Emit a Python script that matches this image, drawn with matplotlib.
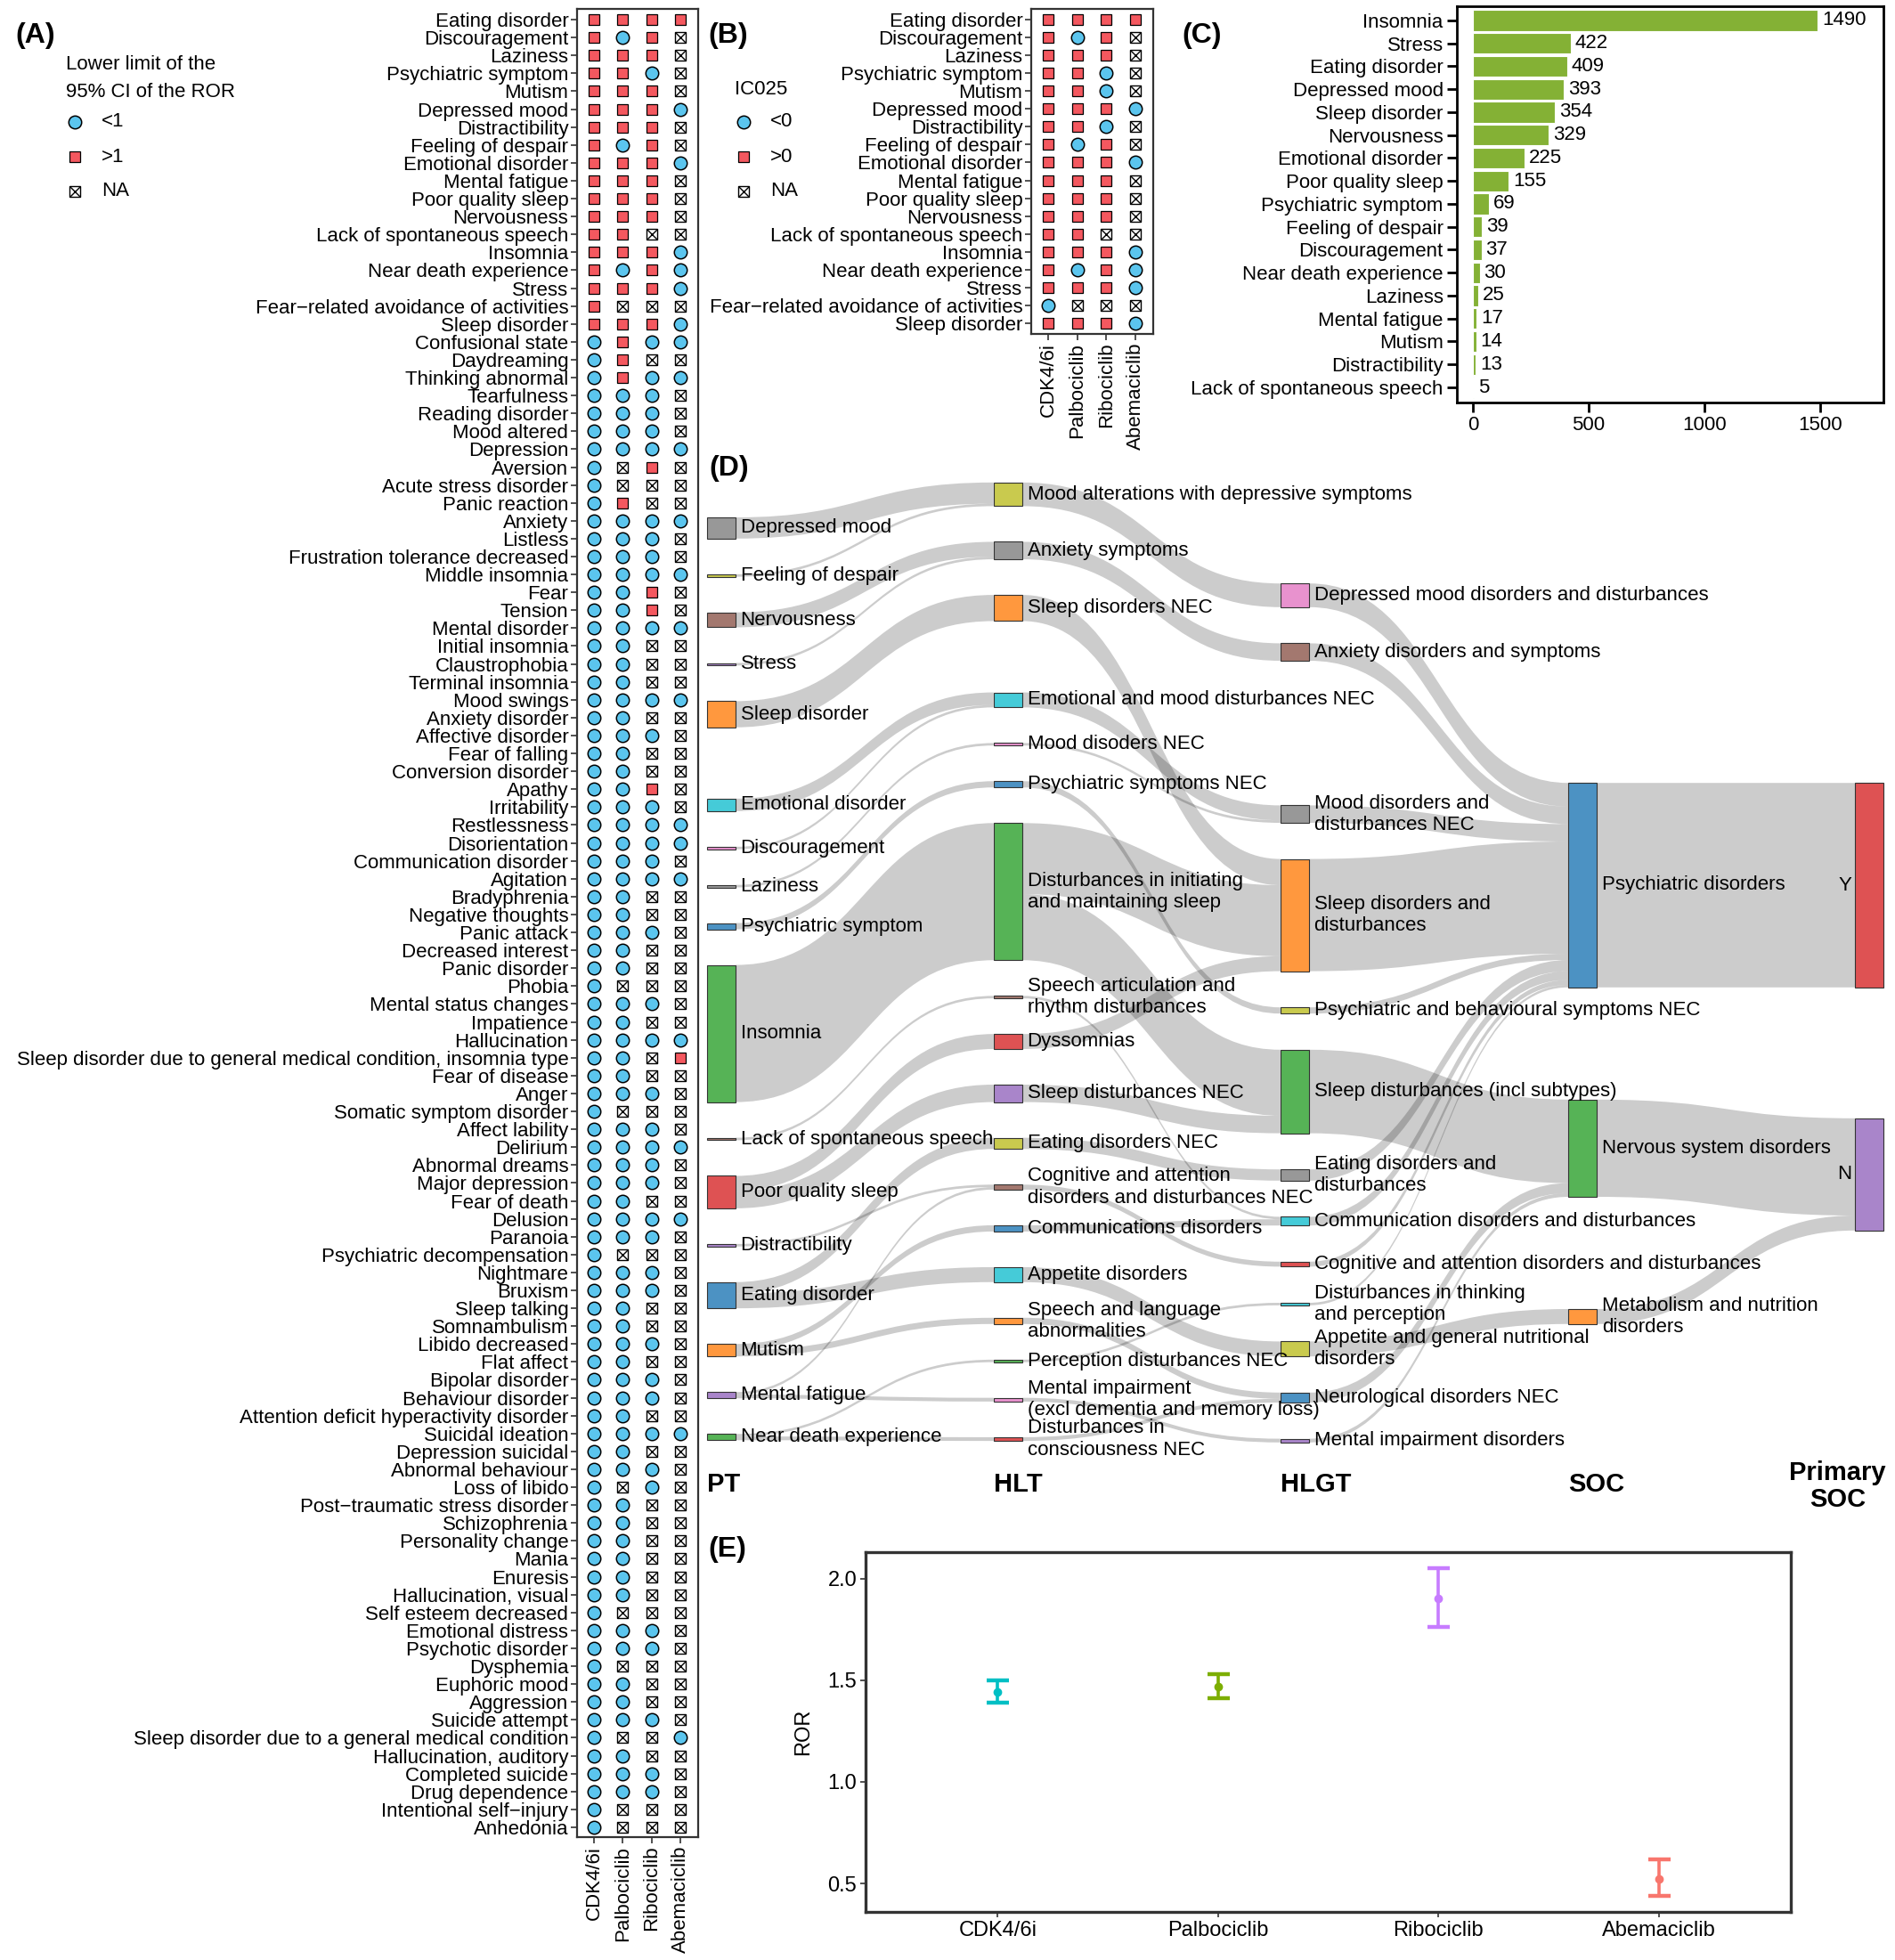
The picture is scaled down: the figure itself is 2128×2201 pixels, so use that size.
import matplotlib.pyplot as plt
from matplotlib.path import Path
from matplotlib.patches import PathPatch, Rectangle
from matplotlib.colors import to_rgba

plt.rcParams['font.family'] = ['Liberation Sans', 'DejaVu Sans']
plt.rcParams['font.size'] = 16
plt.rcParams['axes.edgecolor'] = '#333333'
plt.rcParams['xtick.color'] = '#333333'
plt.rcParams['ytick.color'] = '#333333'
plt.rcParams['xtick.labelcolor'] = 'black'
plt.rcParams['ytick.labelcolor'] = 'black'

# ---------------- data ----------------
drugs = ['CDK4/6i', 'Palbociclib', 'Ribociclib', 'Abemaciclib']

# (A) lower limit of the 95% CI of the ROR : B = <1, R = >1, N = NA
a_terms = [
    'Eating disorder', 'Discouragement', 'Laziness', 'Psychiatric symptom', 'Mutism',
    'Depressed mood', 'Distractibility', 'Feeling of despair', 'Emotional disorder',
    'Mental fatigue', 'Poor quality sleep', 'Nervousness', 'Lack of spontaneous speech',
    'Insomnia', 'Near death experience', 'Stress', 'Fear\u2212related avoidance of activities',
    'Sleep disorder', 'Confusional state', 'Daydreaming', 'Thinking abnormal', 'Tearfulness',
    'Reading disorder', 'Mood altered', 'Depression', 'Aversion', 'Acute stress disorder',
    'Panic reaction', 'Anxiety', 'Listless', 'Frustration tolerance decreased',
    'Middle insomnia', 'Fear', 'Tension', 'Mental disorder', 'Initial insomnia',
    'Claustrophobia', 'Terminal insomnia', 'Mood swings', 'Anxiety disorder',
    'Affective disorder', 'Fear of falling', 'Conversion disorder', 'Apathy', 'Irritability',
    'Restlessness', 'Disorientation', 'Communication disorder', 'Agitation', 'Bradyphrenia',
    'Negative thoughts', 'Panic attack', 'Decreased interest', 'Panic disorder', 'Phobia',
    'Mental status changes', 'Impatience', 'Hallucination',
    'Sleep disorder due to general medical condition, insomnia type', 'Fear of disease',
    'Anger', 'Somatic symptom disorder', 'Affect lability', 'Delirium', 'Abnormal dreams',
    'Major depression', 'Fear of death', 'Delusion', 'Paranoia', 'Psychiatric decompensation',
    'Nightmare', 'Bruxism', 'Sleep talking', 'Somnambulism', 'Libido decreased', 'Flat affect',
    'Bipolar disorder', 'Behaviour disorder', 'Attention deficit hyperactivity disorder',
    'Suicidal ideation', 'Depression suicidal', 'Abnormal behaviour', 'Loss of libido',
    'Post\u2212traumatic stress disorder', 'Schizophrenia', 'Personality change', 'Mania',
    'Enuresis', 'Hallucination, visual', 'Self esteem decreased', 'Emotional distress',
    'Psychotic disorder', 'Dysphemia', 'Euphoric mood', 'Aggression', 'Suicide attempt',
    'Sleep disorder due to a general medical condition', 'Hallucination, auditory',
    'Completed suicide', 'Drug dependence', 'Intentional self\u2212injury', 'Anhedonia']
a_status = [
    'RRRR', 'RBRN', 'RRRN', 'RRBN', 'RRRN', 'RRRB', 'RRRN', 'RBRN', 'RRRB', 'RRRN',
    'RRRN', 'RRRN', 'RRNN', 'RRRB', 'RBRB', 'RRRB', 'RNNN', 'RRRB', 'BRBB', 'BRNN',
    'BRBB', 'BBBN', 'BBBN', 'BBBN', 'BBBB', 'BNRN', 'BNNN', 'BRNN', 'BBBB', 'BBBN',
    'BBBN', 'BBBB', 'BBRN', 'BBRN', 'BBBB', 'BBNN', 'BBNN', 'BBNN', 'BBBB', 'BBNN',
    'BBBN', 'BBNN', 'BBNN', 'BBRN', 'BBBN', 'BBBB', 'BBBB', 'BBBN', 'BBBB', 'BBNN',
    'BBNN', 'BBBN', 'BBNN', 'BBNN', 'BNNN', 'BBBN', 'BBNN', 'BBBB', 'BBNR', 'BBNN',
    'BBBN', 'BNNN', 'BBBN', 'BBBB', 'BBBN', 'BBBN', 'BBNN', 'BBBB', 'BBBN', 'BNNN',
    'BBBN', 'BBBN', 'BBNN', 'BBNN', 'BBBN', 'BBNN', 'BBBN', 'BBBN', 'BBNN', 'BBBB',
    'BBNN', 'BBBN', 'BNBN', 'BBNN', 'BBNN', 'BBNN', 'BBNN', 'BBNN', 'BBNN', 'BNNN',
    'BBBN', 'BBBN', 'BNNN', 'BBNN', 'BBNN', 'BBBN', 'BNNB', 'BBNN', 'BBBN', 'BBBN',
    'BNNN', 'BNNN']

# (B) IC025 : B = <0, R = >0, N = NA
b_terms = a_terms[:18]
b_status = ['RRRR', 'RBRN', 'RRRN', 'RRBN', 'RRBN', 'RRRB', 'RRBN', 'RBRN', 'RRRB',
            'RRRN', 'RRRN', 'RRRN', 'RRNN', 'RRRB', 'RBRB', 'RRRB', 'BNNN', 'RRRB']

# (C) report counts
c_terms = ['Insomnia', 'Stress', 'Eating disorder', 'Depressed mood', 'Sleep disorder',
           'Nervousness', 'Emotional disorder', 'Poor quality sleep', 'Psychiatric symptom',
           'Feeling of despair', 'Discouragement', 'Near death experience', 'Laziness',
           'Mental fatigue', 'Mutism', 'Distractibility', 'Lack of spontaneous speech']
c_counts = [1490, 422, 409, 393, 354, 329, 225, 155, 69, 39, 37, 30, 25, 17, 14, 13, 5]

# (D) sankey PT -> HLT -> HLGT -> SOC -> primary SOC (None = empty slot)
DIMS = 'Disturbances in initiating and maintaining sleep'
SAR = 'Speech articulation and rhythm disturbances'
CAD = 'Cognitive and attention disorders and disturbances NEC'
SLA = 'Speech and language abnormalities'
MIM = 'Mental impairment (excl dementia and memory loss)'
DCN = 'Disturbances in consciousness NEC'
MAD = 'Mood alterations with depressive symptoms'
EMD = 'Emotional and mood disturbances NEC'

pt_col = ['Depressed mood', 'Feeling of despair', 'Nervousness', 'Stress', 'Sleep disorder',
          None, 'Emotional disorder', 'Discouragement', 'Laziness', 'Psychiatric symptom',
          'Insomnia', 'Lack of spontaneous speech', 'Poor quality sleep', 'Distractibility',
          'Eating disorder', 'Mutism', 'Mental fatigue', 'Near death experience']
hlt_col = [MAD, 'Anxiety symptoms', 'Sleep disorders NEC', None, EMD, 'Mood disoders NEC',
           'Psychiatric symptoms NEC', DIMS, SAR, 'Dyssomnias', 'Sleep disturbances NEC',
           'Eating disorders NEC', CAD, 'Communications disorders', 'Appetite disorders', SLA,
           'Perception disturbances NEC', MIM, DCN]
hlgt_col = ['Depressed mood disorders and disturbances', 'Anxiety disorders and symptoms',
            None, None, None, 'Mood disorders and disturbances NEC',
            'Sleep disorders and disturbances', 'Psychiatric and behavioural symptoms NEC',
            'Sleep disturbances (incl subtypes)', 'Eating disorders and disturbances',
            'Communication disorders and disturbances',
            'Cognitive and attention disorders and disturbances',
            'Disturbances in thinking and perception',
            'Appetite and general nutritional disorders', 'Neurological disorders NEC',
            'Mental impairment disorders']
soc_col = ['Psychiatric disorders', 'Nervous system disorders',
           'Metabolism and nutrition disorders']
prim_col = ['Y', 'N']

links = [
    ('Depressed mood', MAD, 17), ('Feeling of despair', MAD, 2),
    ('Nervousness', 'Anxiety symptoms', 12), ('Stress', 'Anxiety symptoms', 2),
    ('Sleep disorder', 'Sleep disorders NEC', 21),
    ('Emotional disorder', EMD, 10), ('Discouragement', EMD, 2),
    ('Laziness', 'Mood disoders NEC', 2),
    ('Psychiatric symptom', 'Psychiatric symptoms NEC', 5),
    ('Insomnia', DIMS, 110), ('Lack of spontaneous speech', SAR, 2),
    ('Poor quality sleep', 'Dyssomnias', 12), ('Poor quality sleep', 'Sleep disturbances NEC', 14),
    ('Distractibility', CAD, 2),
    ('Eating disorder', 'Eating disorders NEC', 9), ('Eating disorder', 'Appetite disorders', 12),
    ('Mutism', 'Communications disorders', 5), ('Mutism', SLA, 5),
    ('Mental fatigue', CAD, 2), ('Mental fatigue', MIM, 3),
    ('Near death experience', 'Perception disturbances NEC', 2), ('Near death experience', DCN, 3),
    # HLT -> HLGT
    (MAD, 'Depressed mood disorders and disturbances', 19),
    ('Anxiety symptoms', 'Anxiety disorders and symptoms', 14),
    ('Sleep disorders NEC', 'Sleep disorders and disturbances', 21),
    (EMD, 'Mood disorders and disturbances NEC', 12),
    ('Mood disoders NEC', 'Mood disorders and disturbances NEC', 2),
    ('Psychiatric symptoms NEC', 'Psychiatric and behavioural symptoms NEC', 5),
    (DIMS, 'Sleep disorders and disturbances', 57),
    (DIMS, 'Sleep disturbances (incl subtypes)', 53),
    (SAR, 'Communication disorders and disturbances', 2),
    ('Dyssomnias', 'Sleep disorders and disturbances', 12),
    ('Sleep disturbances NEC', 'Sleep disturbances (incl subtypes)', 14),
    ('Eating disorders NEC', 'Eating disorders and disturbances', 9),
    (CAD, 'Cognitive and attention disorders and disturbances', 4),
    ('Communications disorders', 'Communication disorders and disturbances', 5),
    ('Appetite disorders', 'Appetite and general nutritional disorders', 12),
    (SLA, 'Neurological disorders NEC', 5),
    ('Perception disturbances NEC', 'Disturbances in thinking and perception', 2),
    (MIM, 'Mental impairment disorders', 3),
    (DCN, 'Neurological disorders NEC', 3),
    # HLGT -> SOC
    ('Depressed mood disorders and disturbances', 'Psychiatric disorders', 19),
    ('Anxiety disorders and symptoms', 'Psychiatric disorders', 14),
    ('Mood disorders and disturbances NEC', 'Psychiatric disorders', 14),
    ('Sleep disorders and disturbances', 'Psychiatric disorders', 90),
    ('Psychiatric and behavioural symptoms NEC', 'Psychiatric disorders', 5),
    ('Sleep disturbances (incl subtypes)', 'Nervous system disorders', 67),
    ('Eating disorders and disturbances', 'Psychiatric disorders', 9),
    ('Communication disorders and disturbances', 'Psychiatric disorders', 7),
    ('Cognitive and attention disorders and disturbances', 'Psychiatric disorders', 4),
    ('Disturbances in thinking and perception', 'Psychiatric disorders', 2),
    ('Appetite and general nutritional disorders', 'Metabolism and nutrition disorders', 12),
    ('Neurological disorders NEC', 'Nervous system disorders', 8),
    ('Mental impairment disorders', 'Nervous system disorders', 3),
    # SOC -> primary SOC
    ('Psychiatric disorders', 'Y', 164),
    ('Nervous system disorders', 'N', 78),
    ('Metabolism and nutrition disorders', 'N', 12),
]

node_color = {
    'Depressed mood': 'gray', 'Feeling of despair': 'olive', 'Nervousness': 'brown',
    'Stress': 'purple', 'Sleep disorder': 'orange', 'Emotional disorder': 'cyan',
    'Discouragement': 'pink', 'Laziness': 'gray', 'Psychiatric symptom': 'blue',
    'Insomnia': 'green', 'Lack of spontaneous speech': 'brown', 'Poor quality sleep': 'red',
    'Distractibility': 'purple', 'Eating disorder': 'blue', 'Mutism': 'orange',
    'Mental fatigue': 'purple', 'Near death experience': 'green',
    MAD: 'olive', 'Anxiety symptoms': 'gray', 'Sleep disorders NEC': 'orange', EMD: 'cyan',
    'Mood disoders NEC': 'pink', 'Psychiatric symptoms NEC': 'blue', DIMS: 'green',
    SAR: 'brown', 'Dyssomnias': 'red', 'Sleep disturbances NEC': 'purple',
    'Eating disorders NEC': 'olive', CAD: 'brown', 'Communications disorders': 'blue',
    'Appetite disorders': 'cyan', SLA: 'orange', 'Perception disturbances NEC': 'green',
    MIM: 'pink', DCN: 'red',
    'Depressed mood disorders and disturbances': 'pink',
    'Anxiety disorders and symptoms': 'brown',
    'Mood disorders and disturbances NEC': 'gray',
    'Sleep disorders and disturbances': 'orange',
    'Psychiatric and behavioural symptoms NEC': 'olive',
    'Sleep disturbances (incl subtypes)': 'green',
    'Eating disorders and disturbances': 'gray',
    'Communication disorders and disturbances': 'cyan',
    'Cognitive and attention disorders and disturbances': 'red',
    'Disturbances in thinking and perception': 'cyan',
    'Appetite and general nutritional disorders': 'olive',
    'Neurological disorders NEC': 'blue', 'Mental impairment disorders': 'purple',
    'Psychiatric disorders': 'blue', 'Nervous system disorders': 'green',
    'Metabolism and nutrition disorders': 'orange', 'Y': 'red', 'N': 'purple'}

wrap = {
    DIMS: 'Disturbances in initiating\nand maintaining sleep',
    SAR: 'Speech articulation and\nrhythm disturbances',
    CAD: 'Cognitive and attention\ndisorders and disturbances NEC',
    SLA: 'Speech and language\nabnormalities',
    MIM: 'Mental impairment\n(excl dementia and memory loss)',
    DCN: 'Disturbances in\nconsciousness NEC',
    'Mood disorders and disturbances NEC': 'Mood disorders and\ndisturbances NEC',
    'Sleep disorders and disturbances': 'Sleep disorders and\ndisturbances',
    'Eating disorders and disturbances': 'Eating disorders and\ndisturbances',
    'Disturbances in thinking and perception': 'Disturbances in thinking\nand perception',
    'Appetite and general nutritional disorders': 'Appetite and general nutritional\ndisorders',
    'Metabolism and nutrition disorders': 'Metabolism and nutrition\ndisorders'}

# (E) overall ROR with 95% CI
e_ror = [1.44, 1.47, 1.90, 0.52]
e_low = [1.39, 1.41, 1.76, 0.44]
e_high = [1.50, 1.53, 2.05, 0.62]
e_colors = ['#00BFC4', '#7CAE00', '#C77CFF', '#F8766D']

# ---------------- figure ----------------
W, H = 2128, 2201
fig = plt.figure(figsize=(W / 100, H / 100), dpi=100)


def px_axes(l, t, r, b):
    return fig.add_axes([l / W, 1 - b / H, (r - l) / W, (b - t) / H])


bg = px_axes(0, 0, W, H)
bg.set_xlim(0, W)
bg.set_ylim(H, 0)
bg.axis('off')

BLUE = '#5bc5ee'
RED = '#f4585f'
MS_O = 10.4
MS_S = 9.2


def draw_marker(ax, xs, ys, kind):
    if kind == 'B':
        ax.plot(xs, ys, 'o', ms=MS_O, mfc=BLUE, mec='black', mew=1.1, ls='none')
    elif kind == 'R':
        ax.plot(xs, ys, 's', ms=MS_S, mfc=RED, mec='black', mew=0.9, ls='none')
    else:
        ax.plot(xs, ys, 's', ms=MS_S, mfc='white', mec='black', mew=1.0, ls='none')
        ax.plot(xs, ys, 'x', ms=MS_S, mec='black', mew=1.0, ls='none')


def status_panel(ax, terms, status, xl, yl):
    pts = {c: ([], []) for c in 'BRN'}
    for i, s in enumerate(status):
        for j, c in enumerate(s):
            pts[c][0].append(j)
            pts[c][1].append(i)
    for kind in 'BRN':
        draw_marker(ax, pts[kind][0], pts[kind][1], kind)
    ax.set_xlim(*xl)
    ax.set_ylim(*yl)
    ax.set_yticks(range(len(terms)))
    ax.set_yticklabels(terms, fontsize=16)
    ax.set_xticks(range(4))
    ax.set_xticklabels(drugs, rotation=90, fontsize=16)
    ax.tick_params(length=5, width=1.2, pad=2)
    for sp in ax.spines.values():
        sp.set_linewidth(1.6)


def legend_block(x, ty, title, items):
    bg.text(x - 5, ty, title, fontsize=16, va='center', ha='left', linespacing=1.6)
    for (y, kind, lab) in items:
        draw_marker(bg, [x + 5], [y], kind)
        bg.text(x + 35, y, lab, fontsize=16, va='center')


# (A)
axA = px_axes(648, 10, 784, 2063)
status_panel(axA, a_terms, a_status, (-0.59, 3.62), (len(a_terms) - 1 + 0.55, -0.6))
bg.text(17, 40, '(A)', fontsize=23, fontweight='bold', va='center')
legend_block(79, 88, 'Lower limit of the\n95% CI of the ROR',
             [(137, 'B', '<1'), (176, 'R', '>1'), (215, 'N', 'NA')])

# (B)
axB = px_axes(1158, 10, 1295, 375)
status_panel(axB, b_terms, b_status, (-0.58, 3.61), (len(b_terms) - 1 + 0.6, -0.6))
bg.text(795, 40, '(B)', fontsize=23, fontweight='bold', va='center')
legend_block(830, 100, 'IC025', [(137, 'B', '<0'), (176, 'R', '>0'), (215, 'N', 'NA')])

# (C)
axC = px_axes(1636, 7, 2115, 452)
yc = list(range(len(c_terms)))
axC.barh(yc, c_counts, height=0.9, color='#84b135', edgecolor='white', linewidth=0.8)
for y, v in zip(yc, c_counts):
    axC.text(v + 18, y, str(v), va='center', ha='left', fontsize=16)
axC.set_xlim(-69, 1773)
axC.set_ylim(len(c_terms) - 1 + 0.66, -0.62)
axC.set_yticks(yc)
axC.set_yticklabels(c_terms, fontsize=16)
axC.set_xticks([0, 500, 1000, 1500])
axC.tick_params(labelsize=16, length=8, width=2, color='black', pad=3)
for sp in axC.spines.values():
    sp.set_linewidth(2)
    sp.set_color('black')
bg.text(1327, 40, '(C)', fontsize=23, fontweight='bold', va='center')

# (D) sankey drawn in reference-pixel units (1 unit = 1.4 output px)
axD = px_axes(784, 511, 2128, 1708)
axD.set_xlim(560, 1520)
axD.set_ylim(1220, 365)
axD.axis('off')
bg.text(796, 526, '(D)', fontsize=23, fontweight='bold', va='center')

columns = [pt_col, hlt_col, hlgt_col, soc_col, prim_col]
col_x = [567, 797, 1027, 1258, 1488]
col_top = [415, 387, 468, 628, 628]
col_gap = [28.6, 28.6, 29, 90, 105]
node_w = 23
col_titles = ['PT', 'HLT', 'HLGT', 'SOC']

inflow, outflow = {}, {}
for s, t, v in links:
    outflow[s] = outflow.get(s, 0) + v
    inflow[t] = inflow.get(t, 0) + v
size, ypos, xpos, colidx = {}, {}, {}, {}
for c, col in enumerate(columns):
    y = col_top[c]
    for n in col:
        if n is not None:
            size[n] = max(inflow.get(n, 0), outflow.get(n, 0))
            ypos[n] = y
            xpos[n] = col_x[c]
            colidx[n] = c
            y += size[n]
        y += col_gap[c]
mid = {n: ypos[n] + size[n] / 2 for n in ypos}

src_y, tgt_y = {}, {}
off = dict(ypos)
for i in sorted(range(len(links)), key=lambda k: mid[links[k][1]]):
    s, t, v = links[i]
    src_y[i] = off[s]
    off[s] += v
off = dict(ypos)
for i in sorted(range(len(links)), key=lambda k: mid[links[k][0]]):
    s, t, v = links[i]
    tgt_y[i] = off[t]
    off[t] += v

codes = [Path.MOVETO, Path.CURVE4, Path.CURVE4, Path.CURVE4, Path.LINETO,
         Path.CURVE4, Path.CURVE4, Path.CURVE4, Path.CLOSEPOLY]
for i, (s, t, v) in enumerate(links):
    x0 = xpos[s] + node_w
    x1 = xpos[t]
    xm = (x0 + x1) / 2
    y0, y1 = src_y[i], tgt_y[i]
    verts = [(x0, y0), (xm, y0), (xm, y1), (x1, y1), (x1, y1 + v),
             (xm, y1 + v), (xm, y0 + v), (x0, y0 + v), (x0, y0)]
    axD.add_patch(PathPatch(Path(verts, codes), facecolor='black', alpha=0.2, lw=0, zorder=1))

c10 = {'blue': '#1f77b4', 'orange': '#ff7f0e', 'green': '#2ca02c', 'red': '#d62728',
       'purple': '#9467bd', 'brown': '#8c564b', 'pink': '#e377c2', 'gray': '#7f7f7f',
       'olive': '#bcbd22', 'cyan': '#17becf'}
for n in ypos:
    axD.add_patch(Rectangle((xpos[n], ypos[n]), node_w, size[n],
                            facecolor=to_rgba(c10[node_color[n]], 0.8),
                            edgecolor='#333333', lw=0.8, zorder=3))
    lab = wrap.get(n, n)
    if colidx[n] == len(columns) - 1:
        axD.text(xpos[n] - 3, mid[n], lab, ha='right', va='center', fontsize=16, zorder=4)
    else:
        axD.text(xpos[n] + node_w + 4, mid[n], lab, ha='left', va='center', fontsize=16,
                 zorder=4)

for c, title in enumerate(col_titles):
    axD.text(col_x[c], 1191, title, fontsize=21, fontweight='bold', ha='left', va='center')
axD.text(col_x[4] - 14, 1192, 'Primary\nSOC', fontsize=21, fontweight='bold',
         ha='center', va='center', linespacing=1.1)

# (E)
axE = px_axes(972, 1743, 2011, 2147)
for i in range(len(drugs)):
    axE.errorbar(i + 1, e_ror[i], yerr=[[e_ror[i] - e_low[i]], [e_high[i] - e_ror[i]]],
                 fmt='o', color=e_colors[i], ms=6, elinewidth=2.6, capsize=9, capthick=3.2)
axE.set_xlim(0.4, 4.6)
axE.set_ylim(0.36, 2.13)
axE.set_xticks(range(1, len(drugs) + 1))
axE.set_xticklabels(drugs)
axE.set_yticks([0.5, 1.0, 1.5, 2.0])
axE.set_yticklabels(['0.5', '1.0', '1.5', '2.0'])
axE.tick_params(labelsize=17, length=4, width=1.2, pad=3)
axE.set_ylabel('ROR', fontsize=17, labelpad=12)
for sp in axE.spines.values():
    sp.set_linewidth(2.4)
bg.text(795, 1740, '(E)', fontsize=23, fontweight='bold', va='center')

fig.savefig('out.png', dpi=100)
